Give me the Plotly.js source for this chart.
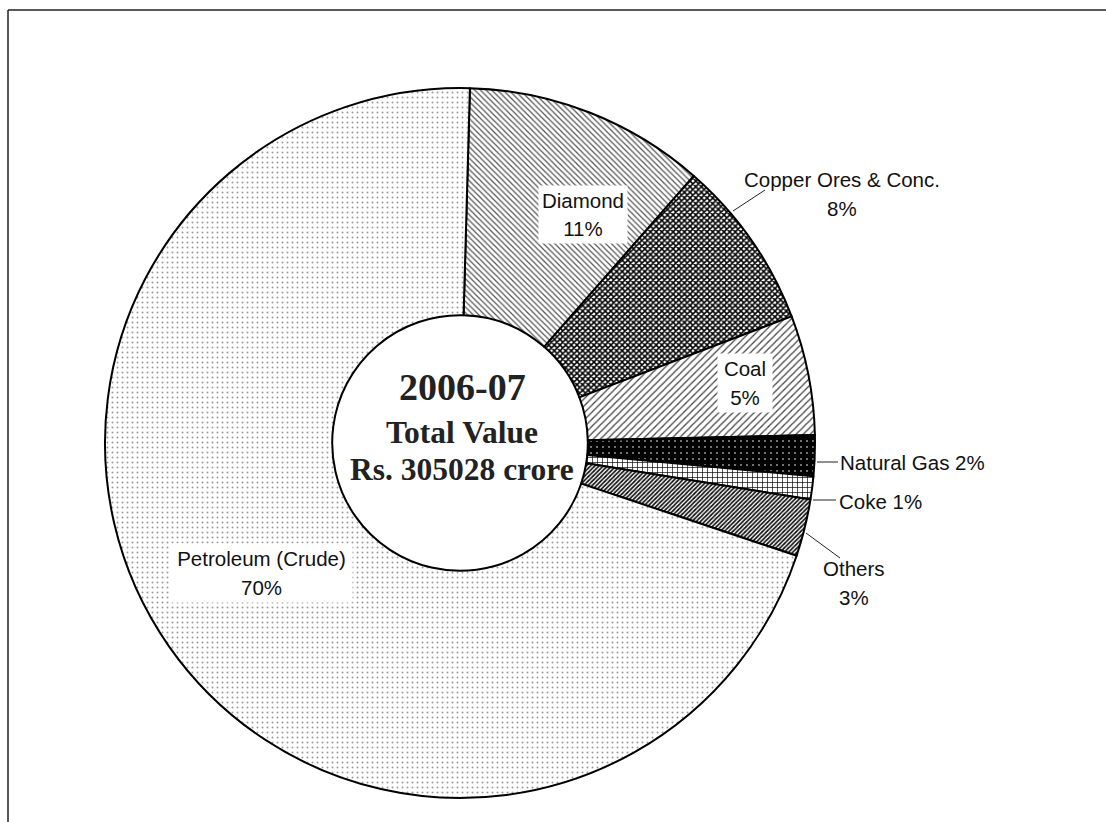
<!DOCTYPE html>
<html><head><meta charset="utf-8">
<script src="https://cdn.plot.ly/plotly-3.0.1.min.js"></script>
<style>html,body{margin:0;padding:0;background:#fff}#chart{width:1106px;height:822px}</style>
</head><body><div id="chart"></div>
<script>
// ---- data ----
const categories = ["Diamond", "Copper Ores & Conc.", "Coal", "Natural Gas", "Coke", "Others", "Petroleum (Crude)"];
const shares = [11.0, 7.75, 5.45, 1.85, 1.05, 2.6, 70.3];
const centerYear = "2006-07";
const centerCaption = "Total Value";
const centerTotal = "Rs. 305028 crore";

// ---- styling ----
const W = 1106, H = 822;
const px = x => x / W, py = y => 1 - y / H;
const total = shares.reduce((a, b) => a + b, 0);
const pctText = shares.map(v => Math.round(v / total * 100) + "%");

const patShape = ["\\", "x", "/", ".", "+", "/", "."];
const patFg = ["#555", "#000", "#444", "#fff", "#000", "#111", "#999"];
const patBg = ["#fff", "#fff", "#fff", "#000", "#fff", "#fff", "#fff"];
const patSize = [4, 4, 5, 6, 5, 3, 5];
const patSolid = [0.3, 0.62, 0.25, 0.06, 0.25, 0.55, 0.12];

const labelFont = {family: "Liberation Sans, Arial, sans-serif", size: 20.5, color: "#111"};
// placement: x,y of first line centre (px); twoLine; anchor; box width; leader
const place = [
  {x: 583, y: 200, two: true, anchor: "center", bg: true, w: 82},
  {x: 842, y: 180, two: true, anchor: "center", bg: false, leader: [733, 211, 765, 190]},
  {x: 745, y: 368, two: true, anchor: "center", bg: true, w: 48},
  {x: 838, y: 462, two: false, anchor: "left", bg: false, leader: [817, 462, 838, 462]},
  {x: 837, y: 501, two: false, anchor: "left", bg: false, leader: [813, 500, 836, 500]},
  {x: 854, y: 568, two: true, anchor: "center", bg: false, leader: [806, 533, 840, 558]},
  {x: 261, y: 558, two: true, anchor: "center", bg: true, w: 175}
];
const lineGap = 29;

const annotations = [];
const shapes = [
  {type: "line", xref: "paper", yref: "paper", x0: px(8), x1: 1, y0: py(10), y1: py(10), line: {color: "#222", width: 1.5}},
  {type: "line", xref: "paper", yref: "paper", x0: px(8), x1: px(8), y0: py(10), y1: 0, line: {color: "#222", width: 1.5}}
];

categories.forEach((c, i) => {
  const p = place[i];
  const common = {xref: "paper", yref: "paper", showarrow: false, font: labelFont,
    xanchor: p.anchor, yanchor: "middle"};
  if (p.bg) { common.bgcolor = "#fff"; common.width = p.w; common.borderpad = 3; }
  if (p.two) {
    annotations.push(Object.assign({}, common, {x: px(p.x), y: py(p.y), text: c}));
    annotations.push(Object.assign({}, common, {x: px(p.x), y: py(p.y + lineGap), text: pctText[i]}));
  } else {
    annotations.push(Object.assign({}, common, {x: px(p.x), y: py(p.y), text: c + " " + pctText[i]}));
  }
  if (p.leader) {
    const l = p.leader;
    shapes.push({type: "line", xref: "paper", yref: "paper", x0: px(l[0]), y0: py(l[1]), x1: px(l[2]), y1: py(l[3]),
      line: {color: "#222", width: 1}});
  }
});

const serif = {family: "Liberation Serif, Times New Roman, serif", color: "#222"};
annotations.push({xref: "paper", yref: "paper", x: px(462), y: py(387), showarrow: false,
  text: "<b>" + centerYear + "</b>", font: Object.assign({size: 38}, serif)});
annotations.push({xref: "paper", yref: "paper", x: px(462), y: py(432), showarrow: false,
  text: "<b>" + centerCaption + "</b>", font: Object.assign({size: 31.5}, serif)});
annotations.push({xref: "paper", yref: "paper", x: px(462), y: py(469), showarrow: false,
  text: "<b>" + centerTotal + "</b>", font: Object.assign({size: 31.5}, serif)});

const trace = {
  type: "pie",
  labels: categories,
  values: shares,
  sort: false,
  direction: "clockwise",
  rotation: 1.6,
  hole: 0.36,
  textinfo: "none",
  hoverinfo: "none",
  showlegend: false,
  domain: {x: [px(102), px(818)], y: [py(798), py(88)]},
  marker: {
    colors: patBg,
    line: {color: "#000", width: 2},
    pattern: {shape: patShape, fgcolor: patFg, bgcolor: patBg, size: patSize, solidity: patSolid, fillmode: "replace"}
  }
};

Plotly.newPlot("chart", [trace], {
  width: W, height: H,
  margin: {l: 0, r: 0, t: 0, b: 0},
  paper_bgcolor: "#fff", plot_bgcolor: "#fff",
  annotations: annotations, shapes: shapes
}, {displayModeBar: false, staticPlot: true});
</script>
</body></html>
